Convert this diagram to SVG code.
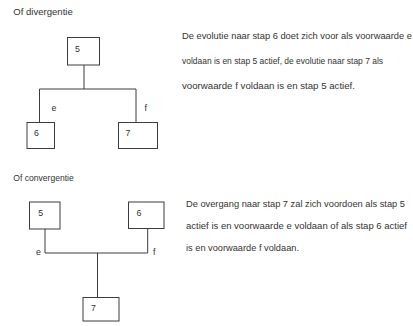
<svg xmlns="http://www.w3.org/2000/svg" width="413" height="326" viewBox="0 0 413 326">
  <style>
    .box { fill: #ffffff; stroke: #3c3c3c; stroke-width: 1; }
    .wire { fill: none; stroke: #3c3c3c; stroke-width: 1; }
    .t { font-family: "Liberation Sans", Arial, sans-serif; font-size: 8.8px; fill: #333333; }
    .n { font-family: "Liberation Sans", Arial, sans-serif; font-size: 8.8px; fill: #333333; }
  </style>
  <rect width="413" height="326" fill="#ffffff"/>

  <!-- divergence -->
  <text class="t" x="13.3" y="14.5" textLength="59.5" lengthAdjust="spacingAndGlyphs">Of divergentie</text>

  <g id="connectors">
    <polyline class="wire" points="84,65 84,89"/>
    <polyline class="wire" points="39.5,122.5 39.5,89 136,89 136,122.5"/>
    <polyline class="wire" points="45,229 45,253 147.7,253 147.7,229"/>
    <polyline class="wire" points="97.5,253 97.5,297.5"/>
    <text class="n" x="51.5" y="110.5">e</text>
    <text class="n" x="144.5" y="110.5">f</text>
    <text class="n" x="36" y="255">e</text>
    <text class="n" x="153" y="255">f</text>
  </g>

  <g id="d5">
    <rect class="box" x="67.5" y="37.5" width="32" height="27.5"/>
    <text class="n" x="75" y="51.5">5</text>
  </g>
  <g id="d6">
    <rect class="box" x="27" y="122.5" width="27.5" height="26"/>
    <text class="n" x="34" y="136">6</text>
  </g>
  <g id="d7">
    <rect class="box" x="118.5" y="122.5" width="39" height="26"/>
    <text class="n" x="125.5" y="136">7</text>
  </g>

  <g id="divergence-note">
    <text class="t" x="182" y="39" textLength="230" lengthAdjust="spacingAndGlyphs">De evolutie naar stap 6 doet zich voor als voorwaarde e</text>
    <text class="t" x="182" y="64" textLength="201" lengthAdjust="spacingAndGlyphs">voldaan is en stap 5 actief, de evolutie naar stap 7 als</text>
    <text class="t" x="182" y="89" textLength="173" lengthAdjust="spacingAndGlyphs">voorwaarde f voldaan is en stap 5 actief.</text>
  </g>

  <!-- convergence -->
  <text class="t" x="13.3" y="181" textLength="60.5" lengthAdjust="spacingAndGlyphs">Of convergentie</text>

  <g id="c5">
    <rect class="box" x="29.5" y="202" width="30.5" height="27"/>
    <text class="n" x="38.3" y="216">5</text>
  </g>
  <g id="c6">
    <rect class="box" x="128.5" y="202" width="35.5" height="26.5"/>
    <text class="n" x="136.5" y="216">6</text>
  </g>
  <g id="c7">
    <rect class="box" x="83" y="297.5" width="36" height="23.5"/>
    <text class="n" x="91" y="311">7</text>
  </g>

  <g id="convergence-note">
    <text class="t" x="186" y="207" textLength="219" lengthAdjust="spacingAndGlyphs">De overgang naar stap 7 zal zich voordoen als stap 5</text>
    <text class="t" x="186" y="229" textLength="221" lengthAdjust="spacingAndGlyphs">actief is en voorwaarde e voldaan of  als stap 6 actief</text>
    <text class="t" x="186" y="251" textLength="113" lengthAdjust="spacingAndGlyphs">is en voorwaarde f voldaan.</text>
  </g>
</svg>
